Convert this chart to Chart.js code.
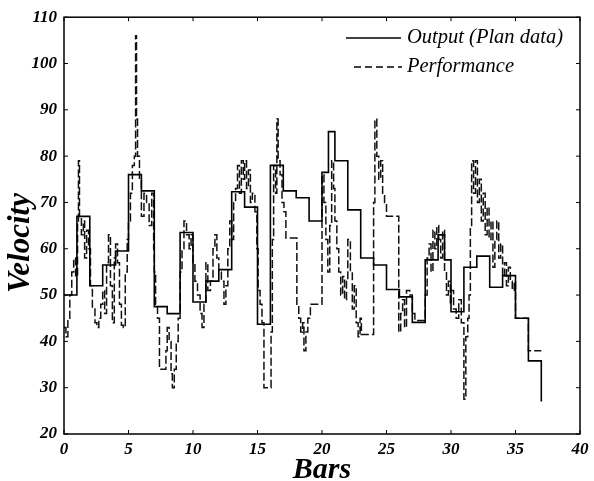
<!DOCTYPE html>
<html>
<head>
<meta charset="utf-8">
<title>Velocity vs Bars</title>
<script src="https://cdn.jsdelivr.net/npm/chart.js@4.4.1/dist/chart.umd.min.js"></script>
<style>
    html, body { margin: 0; padding: 0; background: #fff; }
    #wrap { width: 594px; height: 481px; }
</style>
</head>
<body>
<div id="wrap"><canvas id="velocityChart"></canvas></div>
<script>
// Output (plan data): each value holds from its bar position to the next one
const planBars = [0, 1, 2, 3, 4, 5, 6, 7, 8, 9, 10, 11, 12, 13, 14, 15, 16, 17, 18, 19,
    20, 20.5, 21, 22, 23, 24, 25, 26, 27, 28, 29, 29.5, 30, 31, 32, 33, 34, 35, 36, 37];
const planVelocity = [50, 67, 52, 56.5, 59.5, 76, 72.5, 47.5, 46, 63.5, 48.5, 53, 55.5, 72.3, 69, 43.7, 78, 72.5, 71, 66,
    76.5, 85.3, 79, 68.4, 58, 56.5, 51.2, 49.6, 44.1, 57.6, 63, 57.6, 46.4, 56, 58.4, 51.7, 54.2, 45, 35.8, 27];

// Performance (measured)
const perfBars = [
    0, 0.15, 0.3, 0.45, 0.6, 0.75, 0.9, 1.05, 1.12, 1.2, 1.35, 1.5, 1.6, 1.75, 1.9,
    2.05, 2.2, 2.4, 2.55, 2.7, 2.85, 3.0, 3.15, 3.3, 3.45, 3.6, 3.75, 3.9,
    4.0, 4.15, 4.3, 4.45, 4.6, 4.75, 4.9, 5.0, 5.15, 5.3, 5.45, 5.55, 5.62, 5.7, 5.85,
    6.0, 6.2, 6.4, 6.6, 6.8, 6.95, 7.0, 7.1, 7.25, 7.4, 7.9,
    8.0, 8.15, 8.3, 8.4, 8.55, 8.7, 8.85, 9.0, 9.15, 9.3, 9.5, 9.7, 9.85,
    10.0, 10.15, 10.35, 10.55, 10.7, 10.85, 11.0, 11.15, 11.35, 11.55, 11.7, 11.85,
    12.0, 12.2, 12.4, 12.55, 12.7, 12.85, 13.0, 13.15, 13.3, 13.45, 13.6, 13.75, 13.9,
    14.0, 14.15, 14.3, 14.45, 14.6, 14.8, 14.95, 15.05, 15.2, 15.35, 15.5,
    16.05, 16.15, 16.25, 16.4, 16.5, 16.6, 16.75, 16.9, 17.05, 17.2,
    18.05, 18.2, 18.35, 18.5, 18.6, 18.75, 18.9, 19.1,
    20.0, 20.15, 20.3, 20.45, 20.6, 20.75, 20.9, 21.0, 21.15, 21.3, 21.45, 21.6, 21.75, 21.9,
    22.0, 22.2, 22.35, 22.5, 22.65, 22.8, 22.95, 23.05,
    24.0, 24.1, 24.25, 24.4, 24.55, 24.7, 24.85, 25.0,
    25.95, 26.1, 26.25, 26.4, 26.55, 26.8, 27.0, 27.2,
    28.0, 28.15, 28.3, 28.45, 28.6, 28.75, 28.9, 29.05, 29.2, 29.35, 29.5, 29.65, 29.8, 29.95,
    30.0, 30.2, 30.4, 30.6, 30.8, 31.0, 31.15, 31.3, 31.4, 31.5, 31.6, 31.75, 31.9,
    32.05, 32.2, 32.35, 32.5, 32.65, 32.8, 32.95, 33.1, 33.25, 33.4, 33.55, 33.7, 33.85,
    34.0, 34.15, 34.3, 34.45, 34.6, 34.75, 34.9, 35.0, 36.0, 37.0];
const perfVelocity = [
    43, 41, 45, 50, 55, 58, 54, 66, 79, 67, 63, 66, 58, 64, 60,
    52, 47, 44, 43, 45, 48, 51, 46, 57, 63, 52, 44, 58,
    61, 57, 48, 43.5, 43, 55, 62, 66, 72, 78, 80, 106, 88, 80, 75,
    67, 72, 70, 65, 72, 60, 55, 48, 45, 34, 38,
    43, 40, 33, 30, 34, 40, 45, 55, 60, 66, 63, 60, 63,
    57, 53, 50, 46, 43, 48, 57, 51, 53, 60, 63, 58,
    55, 53, 48, 52, 60, 66, 62, 70, 73, 78, 72, 79, 75,
    79, 73, 77, 70, 72, 68, 60, 51, 48, 44, 30,
    42, 62, 78, 72, 88, 79, 76, 70, 68, 62.3,
    48, 45, 42, 44, 38, 42, 45, 48,
    76, 70, 62, 55, 65, 79, 73, 66, 60, 55, 50, 54, 49, 53,
    62, 55, 47, 52, 44, 41, 45, 41.5,
    70, 88, 80, 75, 79, 72, 70, 67,
    42, 46, 49, 43, 51, 50, 46, 44.5,
    50, 58, 61, 55, 64, 60, 65, 62, 58, 64, 55, 50, 53, 48,
    51, 47, 45, 49, 44, 27.5, 41, 45, 50, 65, 79, 72, 79,
    70, 75, 66, 72, 63, 69, 62, 66, 56, 62, 66, 58, 61,
    54, 57, 52, 56, 53, 51, 53, 45, 38, 38];

// Axis ticks
const xTicks = [0, 5, 10, 15, 20, 25, 30, 35, 40];
const yTicks = [20, 30, 40, 50, 60, 70, 80, 90, 100, 110];

const serif = '"Liberation Serif", "Times New Roman", serif';

// Box, inward tick marks, y title and the legend inside the plot
const framePlugin = {
    id: 'frame',
    afterDraw(chart) {
        const { ctx, chartArea: a, scales } = chart;
        ctx.save();
        ctx.strokeStyle = '#000';
        ctx.lineWidth = 1.5;
        ctx.strokeRect(a.left, a.top, a.right - a.left, a.bottom - a.top);

        ctx.lineWidth = 1;
        ctx.beginPath();
        xTicks.forEach((v) => {
            const px = scales.x.getPixelForValue(v);
            ctx.moveTo(px, a.bottom); ctx.lineTo(px, a.bottom - 4);
            ctx.moveTo(px, a.top); ctx.lineTo(px, a.top + 4);
        });
        yTicks.forEach((v) => {
            const py = scales.y.getPixelForValue(v);
            ctx.moveTo(a.left, py); ctx.lineTo(a.left + 4, py);
            ctx.moveTo(a.right, py); ctx.lineTo(a.right - 4, py);
        });
        ctx.stroke();

        // y axis title
        ctx.fillStyle = '#000';
        ctx.font = 'italic bold 31px ' + serif;
        ctx.textAlign = 'center';
        ctx.textBaseline = 'middle';
        ctx.translate(21, 243);
        ctx.rotate(-Math.PI / 2);
        ctx.fillText('Velocity', 0, 0);
        ctx.setTransform(1, 0, 0, 1, 0, 0);

        // legend
        ctx.font = 'italic 20.5px ' + serif;
        ctx.textAlign = 'left';
        ctx.lineWidth = 1.4;
        ctx.beginPath();
        ctx.moveTo(346, 38); ctx.lineTo(401, 38);
        ctx.stroke();
        ctx.setLineDash([7, 4]);
        ctx.beginPath();
        ctx.moveTo(354, 67); ctx.lineTo(402, 67);
        ctx.stroke();
        ctx.setLineDash([]);
        ctx.fillText('Output (Plan data)', 407, 38);
        ctx.fillText('Performance', 407, 67);
        ctx.restore();
    },
};

document.addEventListener('DOMContentLoaded', () => {
    const ctx = document.getElementById('velocityChart').getContext('2d');

    new Chart(ctx, {
        type: 'line',
        data: {
            datasets: [
                {
                    label: 'Output (Plan data)',
                    data: planBars.map((b, i) => ({ x: b, y: planVelocity[i] })),
                    borderColor: '#000',
                    borderWidth: 1.6,
                    stepped: 'before',
                    pointRadius: 0,
                    fill: false,
                },
                {
                    label: 'Performance',
                    data: perfBars.map((b, i) => ({ x: b, y: perfVelocity[i] })),
                    borderColor: '#111',
                    borderWidth: 1.5,
                    borderDash: [8, 3],
                    stepped: 'before',
                    pointRadius: 0,
                    fill: false,
                },
            ],
        },
        options: {
            responsive: true,
            maintainAspectRatio: false,
            animation: false,
            layout: { padding: { top: 14, right: 14, left: 0, bottom: 0 } },
            plugins: {
                legend: { display: false },
                tooltip: { enabled: false },
            },
            scales: {
                x: {
                    type: 'linear',
                    min: 0,
                    max: 40,
                    afterFit: (scale) => { scale.height = 47; },
                    afterBuildTicks: (scale) => { scale.ticks = xTicks.map((v) => ({ value: v })); },
                    grid: { display: false, drawTicks: false },
                    border: { display: false },
                    ticks: {
                        autoSkip: false,
                        maxRotation: 0,
                        padding: 5,
                        color: '#000',
                        font: { family: serif, size: 17, weight: 'bold', style: 'italic' },
                    },
                    title: {
                        display: true,
                        text: 'Bars',
                        color: '#000',
                        padding: { top: 0, bottom: 0 },
                        font: { family: serif, size: 30, weight: 'bold', style: 'italic', lineHeight: 0.75 },
                    },
                },
                y: {
                    type: 'linear',
                    min: 20,
                    max: 110,
                    afterFit: (scale) => { scale.width = 64; },
                    afterBuildTicks: (scale) => { scale.ticks = yTicks.map((v) => ({ value: v })); },
                    grid: { display: false, drawTicks: false },
                    border: { display: false },
                    ticks: {
                        padding: 7,
                        color: '#000',
                        font: { family: serif, size: 17, weight: 'bold', style: 'italic' },
                    },
                },
            },
        },
        plugins: [framePlugin],
    });
});
</script>
</body>
</html>
